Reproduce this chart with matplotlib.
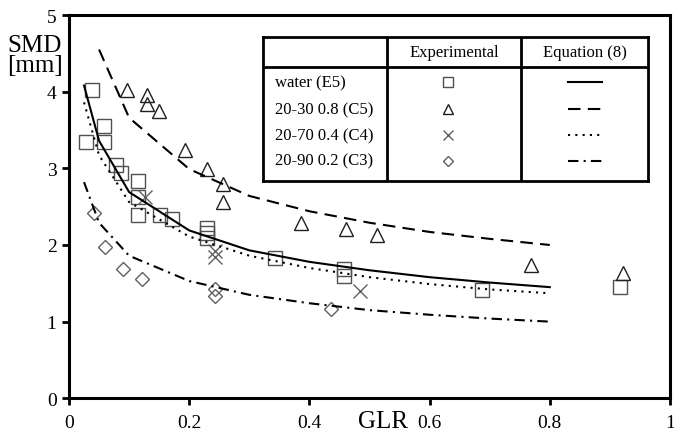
import matplotlib
matplotlib.use('Agg')
import matplotlib.pyplot as plt
import numpy as np

plt.rcParams['font.family'] = ['Liberation Serif', 'DejaVu Serif']

# experimental points
water_x = [0.029, 0.039, 0.059, 0.059, 0.079, 0.087, 0.115, 0.115, 0.115, 0.151, 0.172,
           0.230, 0.230, 0.230, 0.343, 0.458, 0.458, 0.688, 0.917]
water_y = [3.34, 4.02, 3.55, 3.34, 3.04, 2.94, 2.83, 2.62, 2.39, 2.39, 2.34,
           2.22, 2.15, 2.09, 1.83, 1.69, 1.60, 1.41, 1.45]
c5_x = [0.097, 0.129, 0.129, 0.150, 0.193, 0.230, 0.256, 0.256, 0.386, 0.461, 0.513, 0.768, 0.922]
c5_y = [4.02, 3.95, 3.84, 3.75, 3.24, 2.99, 2.79, 2.56, 2.29, 2.21, 2.13, 1.74, 1.63]
c4_x = [0.126, 0.243, 0.243, 0.484]
c4_y = [2.62, 1.92, 1.84, 1.40]
c3_x = [0.041, 0.060, 0.090, 0.121, 0.243, 0.243, 0.436]
c3_y = [2.42, 1.98, 1.69, 1.56, 1.42, 1.33, 1.16]

# Equation (8) curves
eq_x = [0.025, 0.05, 0.1, 0.2, 0.3, 0.4, 0.5, 0.6, 0.7, 0.8]
eq_water = [4.08, 3.36, 2.69, 2.19, 1.93, 1.78, 1.67, 1.58, 1.51, 1.45]
eq_c5_x = [0.05, 0.1, 0.2, 0.3, 0.4, 0.5, 0.6, 0.7, 0.8]
eq_c5 = [4.55, 3.66, 2.99, 2.64, 2.44, 2.29, 2.17, 2.08, 2.00]
eq_c4 = [3.86, 3.17, 2.56, 2.11, 1.86, 1.70, 1.58, 1.49, 1.42, 1.37]
eq_c3 = [2.82, 2.29, 1.86, 1.53, 1.35, 1.24, 1.15, 1.09, 1.04, 1.00]

labels = ['water (E5)', '20-30 0.8 (C5)', '20-70 0.4 (C4)', '20-90 0.2 (C3)']

W, H = 674, 439
fig = plt.figure(figsize=(W / 100, H / 100), dpi=100)

def frac(x0, y0, x1, y1):
    # pixel box -> figure fraction rect
    return [x0 / W, 1 - y1 / H, (x1 - x0) / W, (y1 - y0) / H]

ax = fig.add_axes(frac(69, 16, 670, 399.3))

mk = dict(linestyle='none', markerfacecolor='none', markeredgewidth=1.0)
ax.plot(water_x, water_y, marker='s', markersize=9.5, markeredgecolor='#505050', **mk)
ax.plot(c5_x, c5_y, marker='^', markersize=10.5, markeredgecolor='#202020', **mk)
ax.plot(c4_x, c4_y, marker='x', markersize=10.5, markeredgecolor='#606060', **mk)
ax.plot(c3_x, c3_y, marker='D', markersize=6.8, markeredgecolor='#606060', **mk)

styles = ['-', (0, (6, 3.5)), (0, (1, 2.5)), (0, (5, 2.5, 1, 2.5))]
ax.plot(eq_x, eq_water, color='black', lw=1.5, linestyle=styles[0])
ax.plot(eq_c5_x, eq_c5, color='black', lw=1.5, linestyle=styles[1])
ax.plot(eq_x, eq_c4, color='black', lw=1.5, linestyle=styles[2])
ax.plot(eq_x, eq_c3, color='black', lw=1.5, linestyle=styles[3])

ax.set_xlim(0, 1)
ax.set_ylim(0, 5)
ax.set_xticks([0, 0.2, 0.4, 0.6, 0.8, 1])
ax.set_xticklabels(['0', '0.2', '0.4', '0.6', '0.8', '1'])
ax.set_yticks([0, 1, 2, 3, 4, 5])
ax.tick_params(direction='out', length=5, width=2, labelsize=14)
ax.tick_params(axis='x', pad=6)
ax.tick_params(axis='y', pad=4)
for s in ax.spines.values():
    s.set_linewidth(2.2)
    s.set_color('black')

fig.text(35 / W, 1 - 56 / H, 'SMD\n[mm]', ha='center', va='center', fontsize=18, linespacing=0.9)
fig.text(383 / W, 1 - 428 / H, 'GLR', ha='center', va='baseline', fontsize=18)

# table-style legend
lx0, ly0, lx1, ly1 = 262.7, 38.3, 648, 181.7
lg = fig.add_axes(frac(lx0, ly0, lx1, ly1), zorder=5)
lg.set_xlim(lx0, lx1)
lg.set_ylim(ly1, ly0)
lg.set_xticks([])
lg.set_yticks([])
lg.set_facecolor('white')
for s in lg.spines.values():
    s.set_linewidth(2)
col1, col2, hdr = 386.7, 521, 68.3
lg.axvline(col1, color='black', lw=2)
lg.axvline(col2, color='black', lw=2)
lg.axhline(hdr, color='black', lw=2)
lg.text((col1 + col2) / 2, 53.3, 'Experimental', ha='center', va='center', fontsize=12)
lg.text((col2 + lx1) / 2, 53.3, 'Equation (8)', ha='center', va='center', fontsize=12)

row_y = [83.3, 110, 136, 161.7]
leg_mk = [('s', 7, '#505050'), ('^', 7.5, '#202020'), ('x', 7.5, '#606060'), ('D', 5, '#606060')]
for i, lab in enumerate(labels):
    y = row_y[i]
    lg.text(275, y, lab, ha='left', va='center', fontsize=12)
    m, ms, c = leg_mk[i]
    lg.plot([448], [y], marker=m, markersize=ms, markeredgecolor=c, **mk)
    lg.plot([568, 602], [y, y], color='black', lw=1.5, linestyle=styles[i])

fig.savefig('out.png', dpi=100)
